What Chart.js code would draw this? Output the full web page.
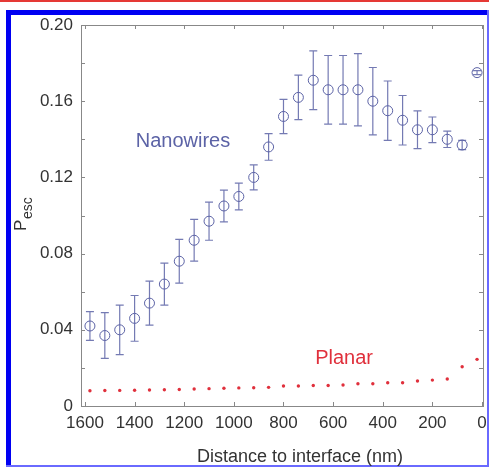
<!DOCTYPE html>
<html>
<head>
<meta charset="utf-8">
<script src="https://cdn.jsdelivr.net/npm/chart.js@4.4.1/dist/chart.umd.min.js"></script>
<style>
  html, body { margin: 0; padding: 0; background: #fff; }
  canvas { display: block; }
</style>
</head>
<body>
<canvas id="chart" width="489" height="467"></canvas>
<script>
// distancia a la interfaz (nm)
const distance = [1580, 1520, 1460, 1400, 1340, 1280, 1220, 1160, 1100, 1040, 980, 920, 860,
  800, 740, 680, 620, 560, 500, 440, 380, 320, 260, 200, 140, 80, 20];
// P_esc nanowires y su barra de error
const nanowires = [0.042, 0.037, 0.040, 0.046, 0.054, 0.064, 0.076, 0.087, 0.097, 0.105, 0.110,
  0.120, 0.136, 0.152, 0.162, 0.171, 0.166, 0.166, 0.166, 0.160, 0.155, 0.150, 0.145, 0.145,
  0.140, 0.137, 0.175];
const nanowiresErr = [0.0075, 0.012, 0.013, 0.012, 0.0115, 0.011, 0.0115, 0.011, 0.010, 0.0083,
  0.007, 0.0066, 0.007, 0.009, 0.0117, 0.0154, 0.018, 0.018, 0.019, 0.0177, 0.0156, 0.013,
  0.0099, 0.0067, 0.0043, 0.0024, 0.001];
// P_esc planar
const planar = [0.0080, 0.0081, 0.0082, 0.0083, 0.0084, 0.0085, 0.0087, 0.0089, 0.0091, 0.0093,
  0.0095, 0.0096, 0.0098, 0.0105, 0.0105, 0.0108, 0.0108, 0.0110, 0.0117, 0.0117, 0.0122,
  0.0122, 0.0131, 0.0136, 0.0142, 0.0206, 0.0245];
const xTicks = [0, 200, 400, 600, 800, 1000, 1200, 1400, 1600];
const yTicks = [0, 0.02, 0.04, 0.06, 0.08, 0.10, 0.12, 0.14, 0.16, 0.18, 0.20];

const FONT = "'Liberation Sans', Arial, Helvetica, sans-serif";
const BLUE = '#5c63a6';
const RED = '#e0303c';

// fondo + marco azul
const framePlugin = {
  id: 'frame',
  beforeDraw(chart) {
    const { ctx, width, height } = chart;
    ctx.save();
    ctx.fillStyle = '#fff';
    ctx.fillRect(0, 0, width, height);
    ctx.fillStyle = '#e53935';
    ctx.fillRect(0, 0, width, 2);
    ctx.fillStyle = '#0000f2';
    ctx.fillRect(6, 10, width - 6, 5);
    ctx.fillRect(6, 10, 5, height - 10);
    ctx.fillStyle = '#6a6aff';
    ctx.fillRect(width - 2, 10, 2, height - 10);
    ctx.fillRect(6, height - 2, width - 6, 2);
    ctx.restore();
  }
};

// caja de ejes con ticks hacia dentro + títulos de ejes
const boxPlugin = {
  id: 'box',
  afterDraw(chart) {
    const { ctx, chartArea: a, scales: { x, y } } = chart;
    ctx.save();
    ctx.strokeStyle = '#888';
    ctx.lineWidth = 1;
    ctx.strokeRect(a.left + 0.5, a.top + 0.5, a.right - a.left, a.bottom - a.top);
    ctx.beginPath();
    yTicks.forEach(v => {
      const py = Math.round(y.getPixelForValue(v)) + 0.5;
      ctx.moveTo(a.left, py); ctx.lineTo(a.left + 4, py);
      ctx.moveTo(a.right, py); ctx.lineTo(a.right - 4, py);
    });
    xTicks.forEach(v => {
      const px = Math.round(x.getPixelForValue(v)) + 0.5;
      ctx.moveTo(px, a.bottom); ctx.lineTo(px, a.bottom - 4);
      ctx.moveTo(px, a.top); ctx.lineTo(px, a.top + 4);
    });
    ctx.stroke();

    ctx.fillStyle = '#333';
    ctx.font = '18px ' + FONT;
    ctx.textAlign = 'center';
    ctx.textBaseline = 'middle';
    ctx.fillText('Distance to interface (nm)', 300, 457);

    // título eje y: P_esc
    ctx.textAlign = 'left';
    ctx.translate(26, 231);
    ctx.rotate(-Math.PI / 2);
    ctx.textBaseline = 'alphabetic';
    ctx.font = '17px ' + FONT;
    ctx.fillText('P', 0, 0);
    ctx.font = '14px ' + FONT;
    ctx.fillText('esc', 12, 6);
    ctx.restore();
  }
};

// barras de error
const errorBarPlugin = {
  id: 'errorBars',
  afterDatasetsDraw(chart) {
    const { ctx, scales: { x, y } } = chart;
    ctx.save();
    ctx.strokeStyle = 'rgba(92,99,166,0.85)';
    ctx.lineWidth = 1.2;
    ctx.beginPath();
    distance.forEach((d, i) => {
      const px = x.getPixelForValue(d);
      const top = y.getPixelForValue(nanowires[i] + nanowiresErr[i]);
      const bot = y.getPixelForValue(nanowires[i] - nanowiresErr[i]);
      ctx.moveTo(px, top); ctx.lineTo(px, bot);
      ctx.moveTo(px - 4, top); ctx.lineTo(px + 4, top);
      ctx.moveTo(px - 4, bot); ctx.lineTo(px + 4, bot);
    });
    ctx.stroke();
    ctx.restore();
  }
};

// etiquetas de series
const labelsPlugin = {
  id: 'seriesLabels',
  afterDraw(chart) {
    const { ctx, scales: { x, y } } = chart;
    ctx.save();
    ctx.font = '20px ' + FONT;
    ctx.textAlign = 'center';
    ctx.textBaseline = 'middle';
    ctx.fillStyle = BLUE;
    ctx.fillText('Nanowires', x.getPixelForValue(1205), y.getPixelForValue(0.139));
    ctx.fillStyle = RED;
    ctx.fillText('Planar', x.getPixelForValue(556), y.getPixelForValue(0.0252));
    ctx.restore();
  }
};

new Chart(document.getElementById('chart'), {
  type: 'scatter',
  data: {
    datasets: [
      {
        label: 'Nanowires',
        data: distance.map((d, i) => ({ x: d, y: nanowires[i] })),
        pointStyle: 'circle', pointRadius: 5, pointHoverRadius: 5,
        borderColor: BLUE, borderWidth: 1, backgroundColor: 'rgba(0,0,0,0)'
      },
      {
        label: 'Planar',
        data: distance.map((d, i) => ({ x: d, y: planar[i] })),
        pointStyle: 'circle', pointRadius: 1.7, pointHoverRadius: 1.7,
        borderWidth: 0, backgroundColor: RED
      }
    ]
  },
  options: {
    responsive: false,
    animation: false,
    events: [],
    layout: { padding: { top: 25, right: 6, left: 0, bottom: 0 } },
    plugins: { legend: { display: false }, tooltip: { enabled: false } },
    scales: {
      x: {
        type: 'linear', reverse: true, min: -4, max: 1616,
        afterBuildTicks: s => { s.ticks = xTicks.map(v => ({ value: v })); },
        afterFit: s => { s.height = 61; },
        grid: { display: false, drawTicks: false },
        border: { display: false },
        ticks: {
          color: '#333', font: { family: FONT, size: 17 }, padding: 7, maxRotation: 0, autoSkip: false,
          callback: v => String(v)
        }
      },
      y: {
        min: 0, max: 0.2,
        afterBuildTicks: s => { s.ticks = yTicks.map(v => ({ value: v })); },
        afterFit: s => { s.width = 81; },
        grid: { display: false, drawTicks: false },
        border: { display: false },
        ticks: {
          color: '#333', font: { family: FONT, size: 17 }, padding: 8, autoSkip: false,
          callback: v => Math.round(v * 50) % 2 === 0 ? (v === 0 ? '0' : v.toFixed(2)) : ''
        }
      }
    }
  },
  plugins: [framePlugin, boxPlugin, errorBarPlugin, labelsPlugin]
});
</script>
</body>
</html>
